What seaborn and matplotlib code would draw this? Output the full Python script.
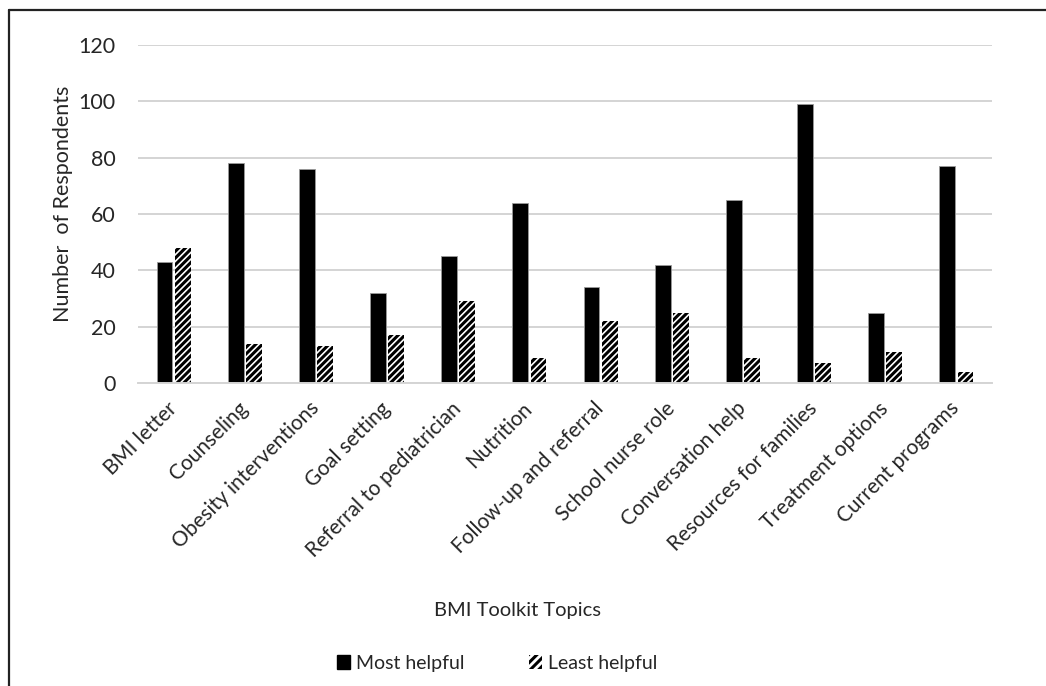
import matplotlib
matplotlib.use("Agg")
import matplotlib.pyplot as plt
from matplotlib.patches import Patch
from matplotlib.lines import Line2D
import seaborn as sns
import pandas as pd

# Dados
topicos = ["BMI letter", "Counseling", "Obesity interventions", "Goal setting",
           "Referral to pediatrician", "Nutrition", "Follow-up and referral",
           "School nurse role", "Conversation help", "Resources for families",
           "Treatment options", "Current programs"]
mais_util = [43, 78, 76, 32, 45, 64, 34, 42, 65, 99, 25, 77]
menos_util = [48, 14, 13, 17, 29, 9, 22, 25, 9, 7, 11, 4]
series = ["Most helpful", "Least helpful"]
y_ticks = [0, 20, 40, 60, 80, 100, 120]

df = pd.DataFrame({
    "topic": topicos * 2,
    "count": mais_util + menos_util,
    "serie": [series[0]] * len(topicos) + [series[1]] * len(topicos),
})

sns.set_theme(style="white")
plt.rcParams["font.family"] = ["Lato", "DejaVu Sans"]
plt.rcParams["hatch.linewidth"] = 2.2

fig = plt.figure(figsize=(10.46, 6.86), dpi=100)
ax = fig.add_axes([138 / 1046, 1 - 383 / 686, (992 - 138) / 1046, (383 - 45) / 686])

sns.barplot(data=df, x="topic", y="count", hue="serie", order=topicos,
            hue_order=series, palette=["black", "white"], width=0.51, gap=0.12,
            saturation=1, legend=False, ax=ax)

# Barras "Least helpful" com hachura
for barra in ax.containers[1]:
    barra.set_hatch("/////")
    barra.set_edgecolor("black")
    barra.set_linewidth(0)
for barra in ax.containers[0]:
    barra.set_edgecolor("#9a9a9a")
    barra.set_linewidth(0.6)

ax.set_ylim(0, 120)
ax.set_xlim(-0.5, len(topicos) - 0.5)
ax.set_yticks(y_ticks)
ax.set_yticklabels([str(v) for v in y_ticks], fontsize=15.5, color="#262626")
ax.yaxis.grid(True, color="#d4d4d4", linewidth=1.4)
ax.set_axisbelow(True)
for lado in ["top", "right", "left"]:
    ax.spines[lado].set_visible(False)
ax.spines["bottom"].set_color("#d4d4d4")
ax.spines["bottom"].set_linewidth(1.4)
ax.tick_params(axis="both", length=0)
ax.tick_params(axis="y", pad=16)

ax.set_xticks(range(len(topicos)))
ax.set_xticklabels(topicos, rotation=45, ha="right", va="center",
                   rotation_mode="anchor", fontsize=15, color="#262626")
ax.tick_params(axis="x", pad=16)

ax.set_xlabel("BMI Toolkit Topics", fontsize=14.5, color="#262626")
ax.xaxis.set_label_coords((517 - 138) / (992 - 138), -(602 - 383) / (383 - 45))
ax.set_ylabel("Number  of Respondents", fontsize=15.5, color="#262626")
ax.yaxis.set_label_coords(-(138 - 73) / (992 - 138), 0.53)

# Legenda
handles = [Patch(facecolor="black", edgecolor="black"),
           Patch(facecolor="white", edgecolor="black", hatch="////", linewidth=0)]
fig.legend(handles, series, loc="center", bbox_to_anchor=(497 / 1046, 1 - 663 / 686),
           ncol=2, frameon=False, fontsize=14, handlelength=0.7, handleheight=0.7,
           handletextpad=0.3, columnspacing=3.3)

# Moldura
fig.add_artist(Line2D([9 / 1046, 1], [1 - 10 / 686, 1 - 10 / 686], color="#222222", lw=1.6))
fig.add_artist(Line2D([9 / 1046, 9 / 1046], [0, 1 - 10 / 686], color="#222222", lw=1.6))

fig.savefig("out.png", dpi=100)
